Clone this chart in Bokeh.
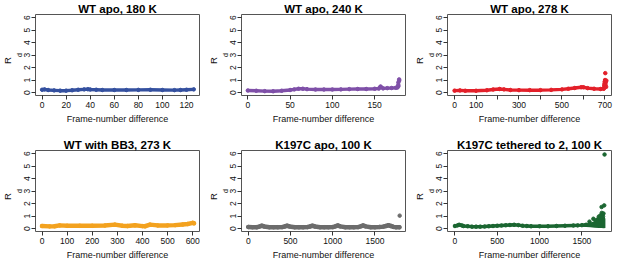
from bokeh.plotting import figure
from bokeh.models import Range1d, FixedTicker, Title
from bokeh.layouts import gridplot
from bokeh.embed import file_html
from bokeh.resources import INLINE

titles = ["WT apo, 180 K", "WT apo, 240 K", "WT apo, 278 K",
          "WT with BB3, 273 K", "K197C apo, 100 K", "K197C tethered to 2, 100 K"]
colors = ["#34509F", "#7F50A8", "#E3202A", "#F3A21F", "#6C6C6C", "#1B6631"]
x_label = "Frame-number difference"
y_label_main = "R"
y_label_sub = "d"
y_ticks = [0, 1, 2, 3, 4, 5, 6]

# WT apo, 180 K
blue_x = [0, 2, 5, 10, 15, 20, 25, 30, 35, 38, 40, 45, 50, 60, 70, 80, 90, 100, 110, 115, 120, 126]
blue_y = [0.22, 0.25, 0.2, 0.17, 0.15, 0.15, 0.18, 0.22, 0.25, 0.26, 0.24, 0.22, 0.2, 0.2, 0.2,
          0.21, 0.22, 0.2, 0.19, 0.2, 0.22, 0.25]
blue_ticks = [0, 20, 40, 60, 80, 100, 120]

# WT apo, 240 K
purple_x = [0, 10, 20, 30, 40, 50, 55, 60, 65, 70, 80, 90, 100, 110, 120, 130, 140, 150, 155,
            157, 160, 165, 170, 175, 177]
purple_y = [0.16, 0.14, 0.11, 0.1, 0.14, 0.2, 0.25, 0.3, 0.3, 0.27, 0.24, 0.24, 0.24, 0.25, 0.27,
            0.28, 0.28, 0.3, 0.32, 0.48, 0.33, 0.35, 0.36, 0.38, 0.4]
purple_tail_x = [178, 178, 179, 179, 178]
purple_tail_y = [0.6, 0.8, 0.95, 1.05, 0.5]
purple_ticks = [0, 50, 100, 150]

# WT apo, 278 K
red_x = [0, 25, 50, 100, 150, 180, 210, 230, 260, 300, 350, 400, 450, 500, 530, 560, 590, 600,
         620, 650, 680, 695]
red_y = [0.15, 0.17, 0.14, 0.14, 0.18, 0.24, 0.28, 0.25, 0.2, 0.19, 0.19, 0.19, 0.21, 0.25, 0.3,
         0.36, 0.42, 0.42, 0.35, 0.3, 0.28, 0.3]
red_tail_x = [697, 699, 700, 701, 702, 703, 704, 702, 706, 707, 698]
red_tail_y = [0.5, 0.85, 0.7, 1.0, 0.9, 0.6, 0.8, 1.55, 0.45, 0.95, 0.65]
red_ticks = [0, 100, 200, 300, 400, 500, 600, 700]
red_tick_labels = ["0", "100", "", "300", "", "500", "", "700"]

# WT with BB3, 273 K
orange_x = [0, 30, 50, 70, 100, 150, 200, 250, 290, 320, 340, 370, 400, 410, 430, 460, 500, 530,
            560, 580, 600, 605]
orange_y = [0.2, 0.17, 0.18, 0.25, 0.22, 0.22, 0.22, 0.24, 0.31, 0.22, 0.2, 0.26, 0.19, 0.18,
            0.31, 0.25, 0.25, 0.27, 0.32, 0.36, 0.45, 0.42]
orange_ticks = [0, 100, 200, 300, 400, 500, 600]

# K197C apo, 100 K
gray_x = [0, 50, 100, 130, 160, 190, 250, 300, 350, 400, 430, 460, 490, 550, 600, 650, 700, 730,
          760, 790, 850, 900, 950, 1000, 1030, 1060, 1090, 1150, 1200, 1250, 1300, 1330, 1360,
          1390, 1450, 1500, 1550, 1600, 1630, 1660, 1690, 1720, 1750, 1790]
gray_y = [0.12, 0.1, 0.1, 0.15, 0.22, 0.16, 0.1, 0.1, 0.1, 0.11, 0.16, 0.22, 0.16, 0.1, 0.1, 0.1,
          0.11, 0.16, 0.22, 0.16, 0.1, 0.1, 0.1, 0.11, 0.17, 0.24, 0.17, 0.1, 0.1, 0.1, 0.11, 0.17,
          0.24, 0.17, 0.1, 0.1, 0.12, 0.15, 0.2, 0.26, 0.2, 0.13, 0.1, 0.1]
gray_tail_x = [1793]
gray_tail_y = [1.03]
gray_ticks = [0, 500, 1000, 1500]

# K197C tethered to 2, 100 K
green_x = [0, 30, 50, 80, 100, 150, 200, 250, 300, 350, 400, 450, 500, 550, 600, 650, 700, 750,
           800, 850, 900, 1000, 1100, 1200, 1300, 1400, 1450, 1500, 1550]
green_y = [0.2, 0.25, 0.3, 0.25, 0.2, 0.18, 0.15, 0.15, 0.15, 0.16, 0.18, 0.2, 0.22, 0.24, 0.26,
           0.28, 0.3, 0.27, 0.22, 0.2, 0.18, 0.18, 0.18, 0.2, 0.22, 0.24, 0.25, 0.27, 0.3]
green_band_x = [1500, 1550, 1600, 1650, 1700, 1730, 1760, 1778]
green_band_lo = [0.15, 0.12, 0.1, 0.07, 0.05, 0.04, 0.03, 0.05]
green_band_hi = [0.35, 0.4, 0.48, 0.58, 0.7, 0.85, 0.9, 0.8]
green_tail_x = [1590, 1636, 1660, 1690, 1700, 1710, 1720, 1735, 1745, 1750, 1755, 1733, 1764, 1768]
green_tail_y = [0.55, 0.78, 0.65, 0.75, 0.95, 0.85, 1.05, 1.25, 1.1, 0.95, 1.2, 1.72, 1.85, 5.92]
green_ticks = [0, 500, 1000, 1500]

FONT = "Liberation Sans"


def panel(i, width, xr, xs, ys, ticks, tick_labels=None, tail=None, band=None, lw=3.5):
    p = figure(width=width, height=136, x_range=Range1d(*xr), y_range=Range1d(-0.24, 6.24),
               output_backend="svg", toolbar_location=None,
               min_border_left=33, min_border_right=width - 199, min_border_top=13,
               min_border_bottom=41)
    p.grid.visible = False
    p.outline_line_color = "#555555"
    p.outline_line_width = 1
    p.background_fill_color = "white"
    p.border_fill_color = "white"
    color = colors[i]
    for ax in (p.xaxis[0], p.yaxis[0]):
        ax.axis_line_color = None
        ax.major_tick_in = 0
        ax.major_tick_out = 4
        ax.minor_tick_line_color = None
        ax.major_tick_line_color = "#333333"
        ax.major_label_text_font = FONT
        ax.major_label_text_font_size = "8.5px"
        ax.major_label_text_color = "#111111"
        ax.major_label_standoff = 2
    p.xaxis.ticker = FixedTicker(ticks=ticks)
    if tick_labels is not None:
        p.xaxis.major_label_overrides = {t: l for t, l in zip(ticks, tick_labels)}
    p.yaxis.ticker = FixedTicker(ticks=y_ticks)
    p.yaxis.major_label_orientation = "vertical"
    p.xaxis.axis_label = x_label
    p.xaxis.axis_label_text_font = FONT
    p.xaxis.axis_label_text_font_style = "normal"
    p.xaxis.axis_label_text_font_size = "9px"
    p.xaxis.axis_label_text_color = "#111111"
    p.xaxis.axis_label_standoff = 3

    # subscript "d" as the axis label, main "R" as an outer left title
    p.yaxis.axis_label = y_label_sub
    p.yaxis.axis_label_text_font = FONT
    p.yaxis.axis_label_text_font_style = "normal"
    p.yaxis.axis_label_text_font_size = "7px"
    p.yaxis.axis_label_text_color = "#111111"
    p.yaxis.axis_label_standoff = -2
    p.add_layout(Title(text=y_label_main, align="left", offset=31.5, standoff=-1,
                       text_font=FONT, text_font_style="normal", text_font_size="9.5px",
                       text_color="#111111"), "left")

    p.title.text = titles[i]
    p.title.align = "center"
    p.title.text_font = FONT
    p.title.text_font_style = "bold"
    p.title.text_font_size = "11.5px"
    p.title.text_color = "#000000"
    p.title.standoff = 0

    if band is not None:
        bx, lo, hi = band
        p.varea(x=bx, y1=lo, y2=hi, fill_color=color)
    p.line(xs, ys, line_color=color, line_width=lw, line_cap="round", line_join="round")
    p.scatter(xs, ys, size=3.5, color=color, marker="circle")
    if tail is not None:
        p.scatter(tail[0], tail[1], size=3.5, color=color, marker="circle")
    return p


p1 = panel(0, 206, (-5.5, 130.8), blue_x, blue_y, blue_ticks)
p2 = panel(1, 206, (-7.5, 186.5), purple_x, purple_y, purple_ticks,
           tail=(purple_tail_x, purple_tail_y))
p3 = panel(2, 205, (-33, 731), red_x, red_y, red_ticks, tick_labels=red_tick_labels,
           tail=(red_tail_x, red_tail_y))
p4 = panel(3, 206, (-26, 627), orange_x, orange_y, orange_ticks, lw=4.5)
p5 = panel(4, 206, (-80, 1862), gray_x, gray_y, gray_ticks, tail=(gray_tail_x, gray_tail_y),
           lw=4.5)
p6 = panel(5, 205, (-88, 1850), green_x, green_y, green_ticks,
           tail=(green_tail_x, green_tail_y), band=(green_band_x, green_band_lo, green_band_hi))

grid = gridplot([[p1, p2, p3], [p4, p5, p6]], toolbar_location=None)

open("out.html", "w").write(file_html(grid, INLINE))
